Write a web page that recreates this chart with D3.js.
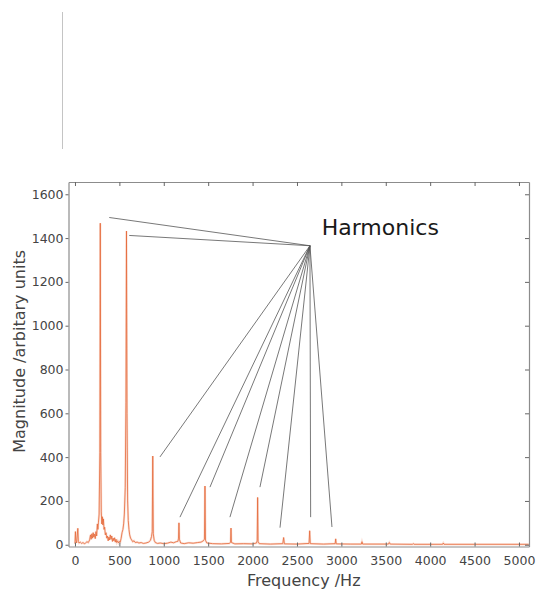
<!DOCTYPE html>
<html>
<head>
<meta charset="utf-8">
<script src="https://cdn.jsdelivr.net/npm/d3@7"></script>
<style>
    body { margin: 0; background: #fff; }
    text { font-family: "DejaVu Sans", Verdana, sans-serif; }
</style>
</head>
<body>
<script>
// Spectrum: [frequency Hz, magnitude]
const spectrum = [
    [0, 5], [5, 60], [10, 20], [18, 8], [25, 40], [32, 75], [38, 15], [45, 8],
    [60, 12], [75, 6], [90, 10], [105, 5], [120, 8], [135, 14], [150, 10],
    [165, 22], [175, 45], [182, 25], [190, 50], [198, 30], [205, 55], [212, 35],
    [220, 48], [228, 28], [236, 60], [244, 40], [252, 95], [258, 70], [264, 100],
    [272, 140], [280, 420], [285, 1468], [290, 420], [296, 150], [302, 95],
    [308, 128], [314, 90], [320, 118], [327, 70], [334, 80], [342, 45], [350, 55],
    [358, 30], [366, 40], [374, 18], [382, 35], [390, 22], [398, 45], [406, 25],
    [414, 40], [422, 15], [430, 30], [438, 18], [446, 32], [454, 12], [462, 25],
    [470, 10], [480, 18], [490, 8], [500, 15], [510, 12], [520, 30], [530, 55],
    [540, 70], [548, 95], [556, 140], [566, 260], [574, 650], [580, 1432],
    [586, 600], [593, 200], [600, 110], [608, 70], [616, 45], [626, 30], [638, 22],
    [650, 14], [665, 18], [680, 10], [700, 12], [720, 8], [745, 10], [770, 6],
    [800, 8], [830, 12], [850, 20], [862, 38], [870, 60], [876, 405], [882, 50],
    [892, 20], [905, 10], [930, 6], [960, 8], [1000, 5], [1040, 7], [1080, 12],
    [1110, 9], [1140, 14], [1160, 16], [1166, 30], [1171, 100], [1176, 25],
    [1190, 8], [1230, 5], [1280, 9], [1330, 7], [1380, 10], [1420, 12], [1445, 18],
    [1458, 25], [1464, 268], [1470, 20], [1485, 8], [1550, 5], [1650, 4],
    [1740, 6], [1752, 12], [1757, 76], [1762, 10], [1800, 4], [1900, 5], [2000, 4],
    [2045, 8], [2052, 20], [2057, 216], [2062, 15], [2075, 5], [2200, 3],
    [2340, 5], [2350, 33], [2358, 4], [2500, 3], [2636, 6], [2643, 64], [2650, 5],
    [2800, 3], [2930, 5], [2936, 27], [2942, 4], [3100, 3], [3225, 3], [3232, 14],
    [3240, 3], [3530, 3], [3540, 10], [3550, 3], [3800, 2], [3810, 5], [3818, 2],
    [4140, 2], [4148, 8], [4156, 2], [4500, 2], [5000, 2], [5110, 2]
];

// Annotation: all lines leave from one point near the label
const annotationHub = [2646, 1365];
const annotationEnds = [
    [386, 1494], [611, 1412], [957, 401], [1182, 126], [1520, 263],
    [1745, 126], [2083, 263], [2309, 78], [2654, 126], [2894, 81]
];
const annotationLabel = "Harmonics";
const annotationLabelAt = [2778, 1415];

const xTicks = [0, 500, 1000, 1500, 2000, 2500, 3000, 3500, 4000, 4500, 5000];
const yTicks = [0, 200, 400, 600, 800, 1000, 1200, 1400, 1600];
const xTitle = "Frequency /Hz";
const yTitle = "Magnitude /arbitary units";

const width = 538, height = 590,
    plot = { left: 68.5, right: 529, top: 182, bottom: 546.5 },
    svg = d3
        .select("body")
        .append("svg")
        .attr("width", width)
        .attr("height", height),
    x = d3.scaleLinear().domain([-73, 5113]).range([plot.left, plot.right]),
    y = d3.scaleLinear().domain([-8, 1656]).range([plot.bottom, plot.top]);

// stray vertical rule above the chart
svg.append("line")
    .attr("x1", 62.5).attr("x2", 62.5)
    .attr("y1", 12).attr("y2", 149)
    .attr("stroke", "#c4c4c4")
    .attr("stroke-width", 1);

// Spectrum line (soft halo + thin line)
const line = d3.line()
    .x(d => x(d[0]))
    .y(d => y(d[1]));

svg.append("path")
    .datum(spectrum)
    .attr("fill", "none")
    .attr("stroke", "#f4b096")
    .attr("stroke-width", 2.2)
    .attr("stroke-opacity", 0.4)
    .attr("d", line);

svg.append("path")
    .datum(spectrum)
    .attr("fill", "none")
    .attr("stroke", "#e56a3c")
    .attr("stroke-width", 0.9)
    .attr("stroke-opacity", 0.9)
    .attr("d", line);

// Axes - box with mirrored ticks
const axisColor = "#8c8c8c";
const bottomAxis = svg.append("g")
    .attr("transform", `translate(0,${plot.bottom})`)
    .call(d3.axisBottom(x).tickValues(xTicks).tickFormat(d3.format("d"))
        .tickSizeInner(-4).tickSizeOuter(0).tickPadding(10));
const topAxis = svg.append("g")
    .attr("transform", `translate(0,${plot.top})`)
    .call(d3.axisTop(x).tickValues(xTicks).tickSizeInner(-4).tickSizeOuter(0).tickFormat(""));
const leftAxis = svg.append("g")
    .attr("transform", `translate(${plot.left},0)`)
    .call(d3.axisLeft(y).tickValues(yTicks).tickFormat(d3.format("d"))
        .tickSizeInner(3).tickSizeOuter(0).tickPadding(2));
const rightAxis = svg.append("g")
    .attr("transform", `translate(${plot.right},0)`)
    .call(d3.axisRight(y).tickValues(yTicks).tickSizeInner(-4).tickSizeOuter(0).tickFormat(""));

[bottomAxis, topAxis, leftAxis, rightAxis].forEach(g => {
    g.select(".domain").attr("stroke", axisColor).attr("stroke-width", 1.2);
    g.selectAll(".tick line").attr("stroke", "#666");
    g.selectAll("text")
        .attr("fill", "#444")
        .style("font-size", "12.5px")
        .style("font-family", "'DejaVu Sans', sans-serif");
});

// Axis titles
svg.append("text")
    .attr("x", (plot.left + plot.right) / 2 + 5)
    .attr("y", 585.5)
    .attr("text-anchor", "middle")
    .attr("fill", "#444")
    .style("font-size", "16px")
    .text(xTitle);

svg.append("text")
    .attr("transform", `translate(25,${(y(0) + y(1656)) / 2 - 12}) rotate(-90)`)
    .attr("text-anchor", "middle")
    .attr("fill", "#444")
    .style("font-size", "16px")
    .text(yTitle);

// Harmonics annotation
svg.append("g")
    .selectAll("line")
    .data(annotationEnds)
    .enter()
    .append("line")
    .attr("x1", x(annotationHub[0]))
    .attr("y1", y(annotationHub[1]))
    .attr("x2", d => x(d[0]))
    .attr("y2", d => y(d[1]))
    .attr("stroke", "#555")
    .attr("stroke-width", 0.8);

svg.append("text")
    .attr("x", x(annotationLabelAt[0]))
    .attr("y", y(annotationLabelAt[1]))
    .attr("fill", "#1a1a1a")
    .style("font-size", "22px")
    .text(annotationLabel);
</script>
</body>
</html>
